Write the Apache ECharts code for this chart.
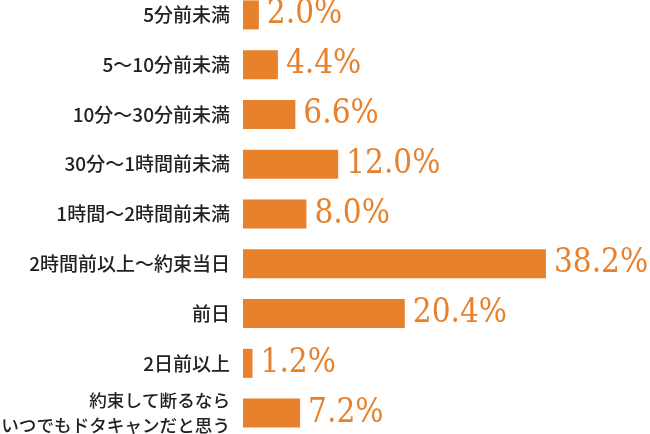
<!DOCTYPE html>
<html>
<head>
<meta charset="utf-8">
<style>html,body{margin:0;padding:0;background:#fff;}#c{width:650px;height:434px;}</style>
<script src="https://cdn.jsdelivr.net/npm/echarts@6/dist/echarts.min.js"></script>
</head>
<body>
<div id="c"></div>
<script>
var categories = [
  "5分前未満",
  "5〜10分前未満",
  "10分〜30分前未満",
  "30分〜1時間前未満",
  "1時間〜2時間前未満",
  "2時間前以上〜約束当日",
  "前日",
  "2日前以上",
  "約束して断るなら\nいつでもドタキャンだと思う"
];
var values = [2.0, 4.4, 6.6, 12.0, 8.0, 38.2, 20.4, 1.2, 7.2];

var chart = echarts.init(document.getElementById('c'));
chart.setOption({
  animation: false,
  backgroundColor: '#ffffff',
  grid: { left: 243, right: 10.5, top: -10, bottom: -4, containLabel: false, outerBoundsMode: 'none' },
  xAxis: {
    type: 'value', min: 0, max: 50,
    show: false
  },
  yAxis: {
    type: 'category',
    data: categories,
    inverse: true,
    axisLine: { show: false },
    axisTick: { show: false },
    splitLine: { show: false },
    axisLabel: {
      margin: 13,
      color: '#222222',
      fontSize: 19,
      fontWeight: 500,
      lineHeight: 25,
      fontFamily: 'Noto Sans CJK JP',
      align: 'right',
      formatter: function (v) {
        return v.indexOf('\n') >= 0 ? '{s|' + v.replace('\n', '}\n{s|') + '}' : v;
      },
      rich: {
        s: { fontSize: 17.6, fontWeight: 500, lineHeight: 25, color: '#222222', fontFamily: 'Noto Sans CJK JP' }
      }
    }
  },
  series: [{
    type: 'bar',
    data: values,
    barWidth: 29,
    itemStyle: { color: '#E8812C' },
    label: {
      show: true,
      position: 'right',
      distance: 8,
      color: '#E8812C',
      fontSize: 33,
      fontFamily: '"DejaVu Serif Condensed", "DejaVu Serif", serif',
      formatter: function (p) { return p.value.toFixed(1) + '%'; }
    }
  }]
});
</script>
</body>
</html>
